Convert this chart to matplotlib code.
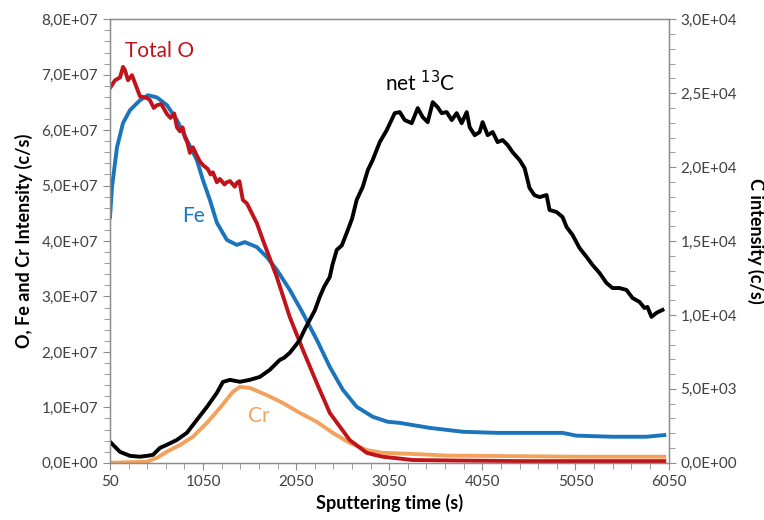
import numpy as np
import matplotlib
matplotlib.use("Agg")
import matplotlib.pyplot as plt
import matplotlib.ticker as ticker

plt.rcParams['font.family'] = ['Lato', 'DejaVu Sans']

# depth profile, sputtering time in s
t_o = [50, 104, 157, 190, 211, 243, 286, 318, 372, 447, 479, 520, 554, 600, 662, 700,
       740, 769, 800, 830, 855, 880, 908, 941, 980, 1010, 1048, 1100, 1130, 1155, 1198,
       1230, 1280, 1305, 1340, 1390, 1413, 1440, 1477, 1520, 1628, 1692, 1842,
       1981, 2121, 2271, 2411, 2625, 2808, 2900, 2979, 3302, 3806, 4500, 5200, 6005]
total_o = [6.76, 6.90, 6.95, 7.14, 7.08, 6.90, 6.99, 6.85, 6.61, 6.58, 6.54, 6.40, 6.45,
           6.47, 6.29, 6.22, 6.30, 6.05, 5.98, 6.05, 5.87, 5.78, 5.59, 5.69, 5.55, 5.45,
           5.37, 5.30, 5.20, 5.24, 5.06, 5.12, 5.02, 5.06, 5.08, 4.98, 5.05, 5.08, 4.74,
           4.68, 4.32, 4.02, 3.35, 2.63, 2.04, 1.44, 0.90, 0.41, 0.18, 0.14, 0.11, 0.05,
           0.04, 0.03, 0.03, 0.03]

t_fe = [50, 71, 125, 190, 265, 372, 458, 554, 662, 769, 876, 983, 1048, 1123, 1198,
        1305, 1413, 1499, 1628, 1735, 1842, 1981, 2121, 2271, 2411, 2550, 2700, 2872,
        3033, 3162, 3484, 3838, 4203, 4557, 4911, 5061, 5447, 5812, 6005]
fe = [4.43, 4.97, 5.69, 6.13, 6.36, 6.54, 6.63, 6.59, 6.45, 6.18, 5.82, 5.46, 5.10,
      4.74, 4.33, 4.02, 3.93, 3.98, 3.89, 3.71, 3.48, 3.12, 2.70, 2.22, 1.73, 1.32,
      1.01, 0.83, 0.74, 0.72, 0.63, 0.56, 0.54, 0.54, 0.54, 0.49, 0.47, 0.47, 0.50]

t_cr = [50, 447, 554, 662, 801, 941, 1091, 1231, 1370, 1445, 1553, 1735, 1906, 2089,
        2271, 2443, 2625, 2808, 2979, 3302, 3667, 5094, 6005]
cr = [0.0, 0.02, 0.09, 0.20, 0.32, 0.47, 0.72, 0.99, 1.28, 1.37, 1.35, 1.22, 1.08, 0.90,
      0.74, 0.54, 0.36, 0.23, 0.18, 0.16, 0.13, 0.11, 0.11]

t_c = [50, 157, 265, 372, 447, 512, 587, 662, 769, 876, 984, 1091, 1198, 1263, 1338,
       1445, 1552, 1660, 1767, 1874, 1920, 1981, 2040, 2089, 2140, 2196, 2250, 2303,
       2350, 2411, 2440, 2486, 2540, 2593, 2650, 2700, 2765, 2820, 2872, 2948, 3023,
       3109, 3163, 3216, 3291, 3356, 3409, 3463, 3517, 3570, 3613, 3667, 3721, 3774,
       3828, 3882, 3914, 3968, 4021, 4053, 4107, 4161, 4214, 4268, 4322, 4375, 4451,
       4504, 4557, 4610, 4665, 4740, 4772, 4848, 4912, 4955, 5019, 5094, 5170, 5234,
       5309, 5384, 5449, 5524, 5599, 5663, 5739, 5792, 5824, 5867, 5921, 5985]
net_c = [1420, 740, 470, 410, 470, 540, 1010, 1220, 1550, 2030, 2910, 3780, 4730, 5470,
         5610, 5480, 5610, 5810, 6290, 6960, 7100, 7440, 7900, 8320, 9000, 9670, 10300,
         11220, 11900, 12570, 13400, 14400, 14700, 15550, 16500, 17780, 18660, 19800,
         20480, 21690, 22500, 23650, 23720, 23180, 22970, 23990, 23380, 23040, 24390,
         24050, 23650, 23720, 23180, 23650, 22970, 23720, 22700, 22160, 22370, 23040,
         22160, 22370, 21690, 21830, 21490, 21010, 20470, 19930, 18590, 18100, 17970,
         18110, 17100, 16960, 16620, 15950, 15410, 14530, 13920, 13380, 12840, 12160,
         11820, 11820, 11690, 11150, 10880, 10470, 10540, 9870, 10140, 10340]

red = '#C0141B'
blue = '#1A75BC'
orange = '#F2A25C'
grey = '#8C8C8C'

fig, ax = plt.subplots(figsize=(7.64, 5.2), dpi=100)
fig.subplots_adjust(left=0.144, right=0.875, bottom=0.11, top=0.963)
ax2 = ax.twinx()

ax.plot(t_cr, np.array(cr) * 1e7, color=orange, lw=2.8)
ax.plot(t_fe, np.array(fe) * 1e7, color=blue, lw=2.8)
ax.plot(t_o, np.array(total_o) * 1e7, color=red, lw=2.8)
ax2.plot(t_c, net_c, color='black', lw=2.8)

ax.set_xlim(50, 6050)
ax.set_ylim(0, 8e7)
ax2.set_ylim(0, 3e4)

ax.set_xticks(np.arange(50, 6051, 1000))
ax.xaxis.set_minor_locator(ticker.FixedLocator(np.arange(50, 6051, 200)))
ax.set_yticks(np.arange(0, 8.01e7, 1e7))
ax.yaxis.set_minor_locator(ticker.MultipleLocator(2e6))
ax2.set_yticks(np.arange(0, 3.01e4, 5e3))
ax2.yaxis.set_minor_locator(ticker.MultipleLocator(1e3))

sci = ticker.FuncFormatter(lambda v, p: f'{v:.1E}'.replace('.', ','))
ax.yaxis.set_major_formatter(sci)
ax2.yaxis.set_major_formatter(sci)

for a in (ax, ax2):
    for s in a.spines.values():
        s.set_color(grey)
        s.set_linewidth(0.9)
    a.tick_params(which='both', color=grey, labelcolor='#404040', labelsize=11,
                  direction='out')
    a.tick_params(which='major', length=5)
    a.tick_params(which='minor', length=4)

ax.set_xlabel('Sputtering time (s)', fontsize=13, fontweight='bold', labelpad=4)
ax.set_ylabel('O, Fe and Cr Intensity (c/s)', fontsize=13, fontweight='bold', labelpad=6)
ax2.set_ylabel('C intensity (c/s)', fontsize=13, fontweight='bold', rotation=270,
               labelpad=20)

ax.text(210, 7.42e7, 'Total O', color=red, fontsize=15, ha='left', va='center')
ax.text(830, 4.45e7, 'Fe', color=blue, fontsize=15, ha='left', va='center')
ax.text(1530, 0.84e7, 'Cr', color=orange, fontsize=15, ha='left', va='center')
ax.text(3000, 6.85e7, 'net $^{13}$C', color='black', fontsize=15, ha='left', va='center')

fig.savefig('out.png', dpi=100)
